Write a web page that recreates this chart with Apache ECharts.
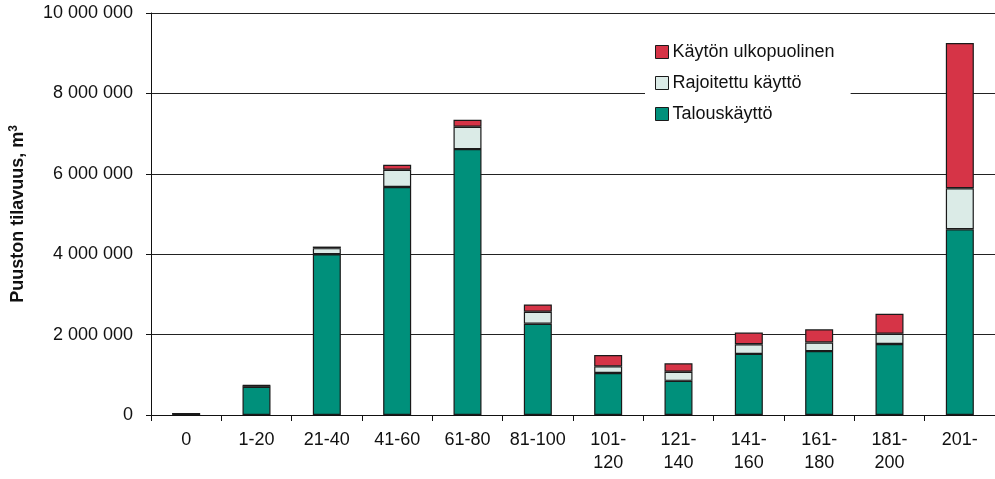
<!DOCTYPE html>
<html>
<head>
<meta charset="utf-8">
<script src="https://cdn.jsdelivr.net/npm/echarts@6/dist/echarts.min.js"></script>
<style>
  html, body { margin: 0; padding: 0; background: #fff; }
  #chart { width: 995px; height: 479px; }
</style>
</head>
<body>
<div id="chart"></div>
<script>
// ikäluokat (vuotta)
var categories = ['0', '1-20', '21-40', '41-60', '61-80', '81-100', '101-\n120', '121-\n140', '141-\n160', '161-\n180', '181-\n200', '201-']
var talouskaytto = [30000, 700000, 4000000, 5670000, 6615000, 2270000, 1045000, 850000, 1520000, 1590000, 1765000, 4620000]
var rajoitettu = [5000, 30000, 150000, 430000, 555000, 300000, 165000, 225000, 240000, 215000, 255000, 1020000]
var ulkopuolinen = [5000, 10000, 40000, 125000, 175000, 180000, 280000, 210000, 290000, 325000, 500000, 3615000]
var yTicks = [0, 2000000, 4000000, 6000000, 8000000, 10000000]

var mainFont = 'Liberation Sans, Arial, sans-serif'

function spaced(v) {
  return String(v).replace(/\B(?=(\d{3})+(?!\d))/g, ' ')
}

var chart = echarts.init(document.getElementById('chart'))

var barStyle = function(color) {
  return {
    color: color,
    borderColor: '#1a1a1a',
    borderWidth: 1.2
  }
}

chart.setOption({
  animation: false,
  textStyle: { fontFamily: mainFont },
  grid: {
    left: 151,
    right: 0,
    top: 13,
    bottom: 64,
    outerBoundsMode: 'none'
  },
  legend: {
    orient: 'vertical',
    left: 645,
    top: 35,
    padding: [8, 16, 8, 10],
    backgroundColor: '#fff',
    itemWidth: 13,
    itemHeight: 13,
    itemGap: 13,
    icon: 'rect',
    itemStyle: { borderColor: '#1a1a1a', borderWidth: 1 },
    textStyle: { fontSize: 18, color: '#111', fontFamily: mainFont, padding: [0, 0, 0, -1] },
    data: ['Käytön ulkopuolinen', 'Rajoitettu käyttö', 'Talouskäyttö']
  },
  xAxis: {
    type: 'category',
    data: categories,
    axisLine: { lineStyle: { color: '#111', width: 1 } },
    axisTick: { show: true, length: 6, lineStyle: { color: '#111' } },
    axisLabel: { interval: 0, color: '#111', fontSize: 18, margin: 14, lineHeight: 23, fontFamily: mainFont }
  },
  yAxis: {
    type: 'value',
    min: yTicks[0],
    max: yTicks[yTicks.length - 1],
    interval: yTicks[1] - yTicks[0],
    name: 'Puuston tilavuus, m{sup|3}',
    nameLocation: 'middle',
    nameGap: 123,
    nameTextStyle: {
      fontSize: 18,
      fontWeight: 'bold',
      color: '#111',
      fontFamily: mainFont,
      rich: {
        sup: { fontSize: 12, fontWeight: 'bold', color: '#111', verticalAlign: 'top', padding: [0, 0, 8, 0] }
      }
    },
    axisLine: { show: true, lineStyle: { color: '#111', width: 1 } },
    axisTick: { show: true, inside: false, length: 5, lineStyle: { color: '#111' } },
    axisLabel: {
      color: '#111',
      fontSize: 18,
      margin: 18,
      fontFamily: mainFont,
      formatter: function(v) { return spaced(v) }
    },
    splitLine: { show: true, lineStyle: { color: '#222', width: 1 } }
  },
  series: [
    {
      name: 'Talouskäyttö',
      type: 'bar',
      stack: 'tilavuus',
      barWidth: 28,
      itemStyle: barStyle('#00907b'),
      data: talouskaytto
    },
    {
      name: 'Rajoitettu käyttö',
      type: 'bar',
      stack: 'tilavuus',
      barWidth: 28,
      itemStyle: barStyle('#dbebe7'),
      data: rajoitettu
    },
    {
      name: 'Käytön ulkopuolinen',
      type: 'bar',
      stack: 'tilavuus',
      barWidth: 28,
      itemStyle: barStyle('#d63447'),
      data: ulkopuolinen
    }
  ]
})
</script>
</body>
</html>
